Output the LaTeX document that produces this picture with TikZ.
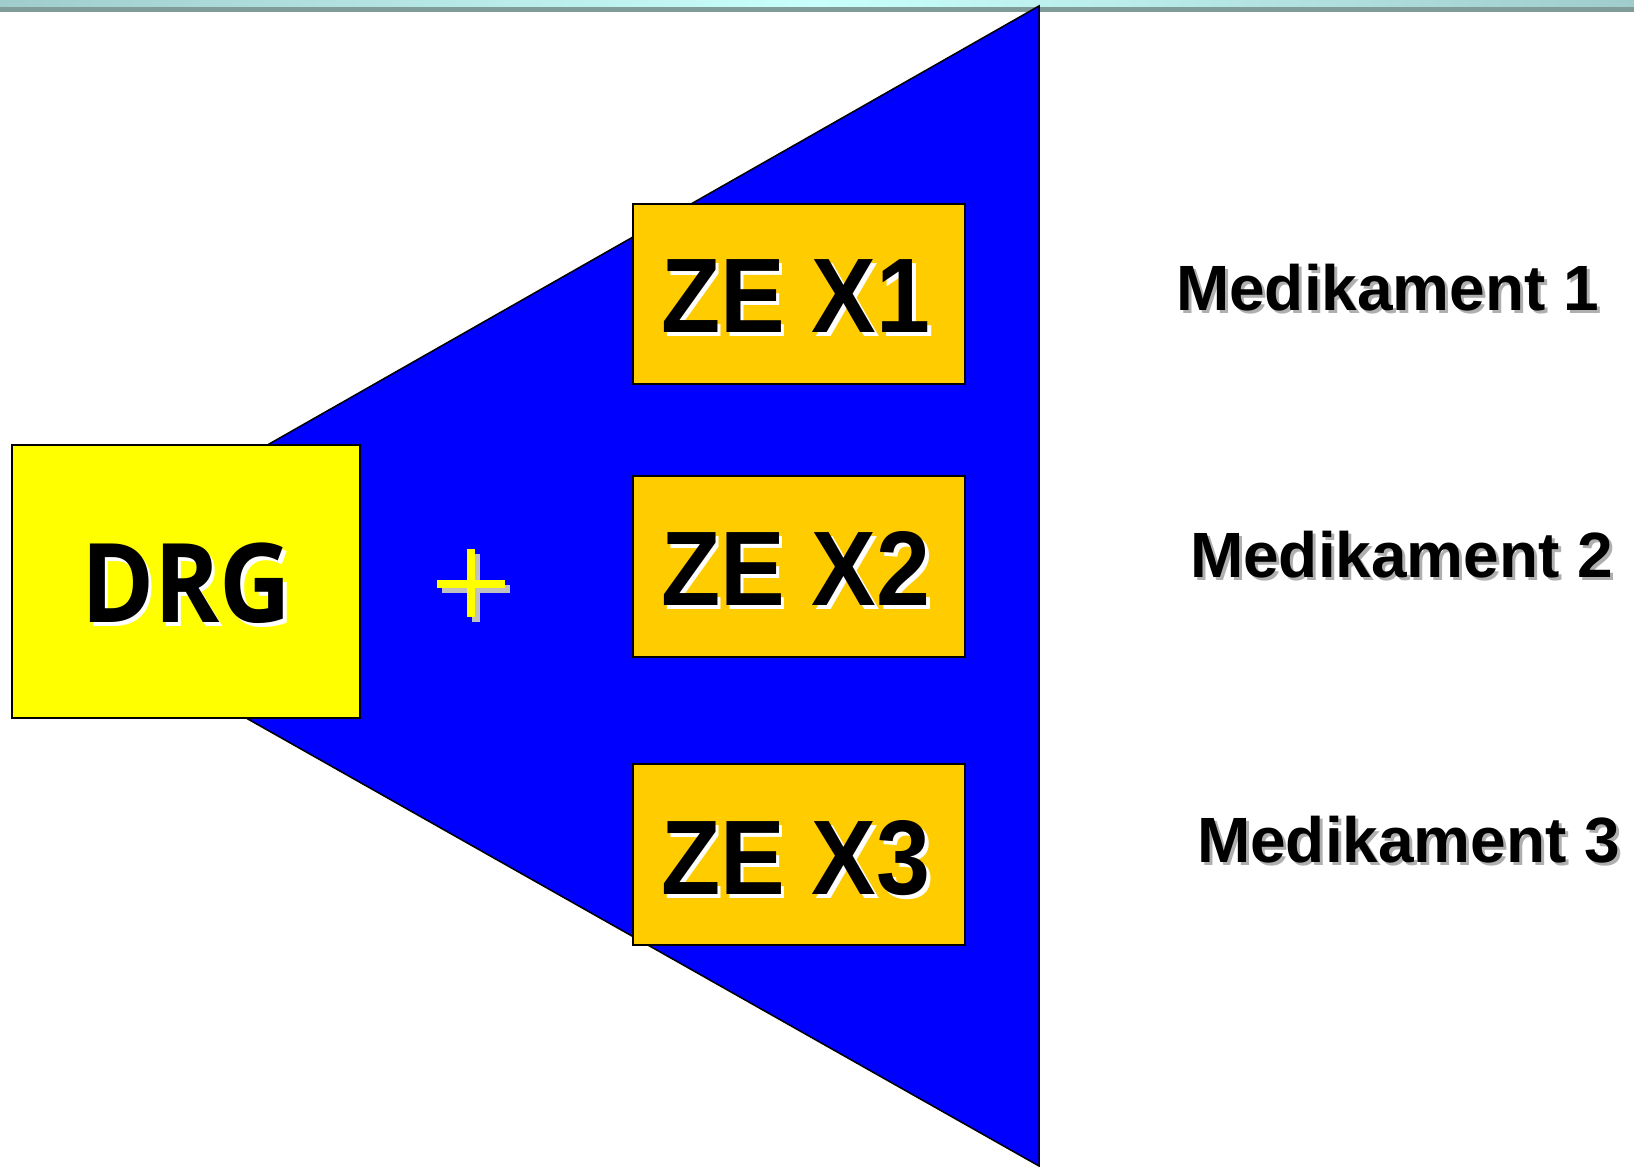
\documentclass[tikz,border=0pt]{standalone}
\usepackage{fontspec}
\setmainfont{Liberation Sans}
\newfontfamily\arialfont{Liberation Sans}
\newfontfamily\drgfont{Open Sans}
\definecolor{bandlight}{RGB}{200,255,252}
\definecolor{bandedge}{RGB}{160,204,204}
\definecolor{banddark}{RGB}{128,156,152}
\definecolor{triblue}{RGB}{0,0,255}
\definecolor{drgyellow}{RGB}{255,255,0}
\definecolor{zeorange}{RGB}{255,204,0}
\definecolor{medshadow}{RGB}{175,175,175}
\definecolor{plusshadow}{RGB}{192,192,192}
\tikzset{
  boxstyle/.style={draw=black, line width=1.5pt, inner sep=0pt, anchor=north west},
  txt/.style={inner sep=0pt, outer sep=0pt, anchor=base west, text=black},
  zefont/.style={font=\arialfont\bfseries\fontsize{106}{110}\selectfont},
  medfont/.style={font=\arialfont\bfseries\fontsize{64}{70}\selectfont},
  drgf/.style={font=\drgfont\bfseries\fontsize{110}{115}\selectfont},
}
% shadowed text: colour, dx, dy, text
\newcommand{\shtext}[4]{\makebox[0pt][l]{\hspace*{#2}\raisebox{-#3}{\textcolor{#1}{#4}}}#4}
\newcommand{\zesq}[1]{\scalebox{0.915}[1]{\shtext{white}{4pt}{4pt}{#1}}}
\begin{document}
\begin{tikzpicture}[x=1pt,y=-1pt]
\useasboundingbox (0,0) rectangle (1634,1167);
\fill[white] (0,0) rectangle (1634,1167);
% top band
\shade[left color=bandedge, right color=bandedge, middle color=bandlight] (0,0) rectangle (1634,7);
\fill[banddark] (0,7) rectangle (1634,12);
% triangle
\draw[fill=triblue, line width=1.5pt, line join=miter] (1039,6) -- (1039,1166) -- (16,588) -- cycle;
% DRG box
\node[boxstyle, fill=drgyellow, minimum width=348pt, minimum height=273pt] (drg) at (11,444) {};
\node[txt, drgf] (drgt) at (81,622) {\scalebox{0.9}[1]{\shtext{white}{4pt}{4pt}{DRG}}};
% plus sign
\fill[plusshadow] (472,554) rectangle (480,622);
\fill[plusshadow] (442,585) rectangle (510,593);
\fill[drgyellow] (467,549) rectangle (475,617);
\fill[drgyellow] (437,580) rectangle (505,588);
% ZE boxes
\node[boxstyle, fill=zeorange, minimum width=332pt, minimum height=180pt] (ze1) at (632,203) {};
\node[boxstyle, fill=zeorange, minimum width=332pt, minimum height=181pt] (ze2) at (632,475) {};
\node[boxstyle, fill=zeorange, minimum width=332pt, minimum height=181pt] (ze3) at (632,763) {};
\node[txt, zefont] (ze1t) at (661,332) {\zesq{ZE X1}};
\node[txt, zefont] (ze2t) at (661,605) {\zesq{ZE X2}};
\node[txt, zefont] (ze3t) at (661,894) {\zesq{ZE X3}};
% Medikament labels
\node[txt, medfont] (m1t) at (1176,310) {\shtext{medshadow}{3pt}{3pt}{Medikament 1}};
\node[txt, medfont] (m2t) at (1190,577) {\shtext{medshadow}{3pt}{3pt}{Medikament 2}};
\node[txt, medfont] (m3t) at (1197,862) {\shtext{medshadow}{3pt}{3pt}{Medikament 3}};
\end{tikzpicture}
\end{document}
